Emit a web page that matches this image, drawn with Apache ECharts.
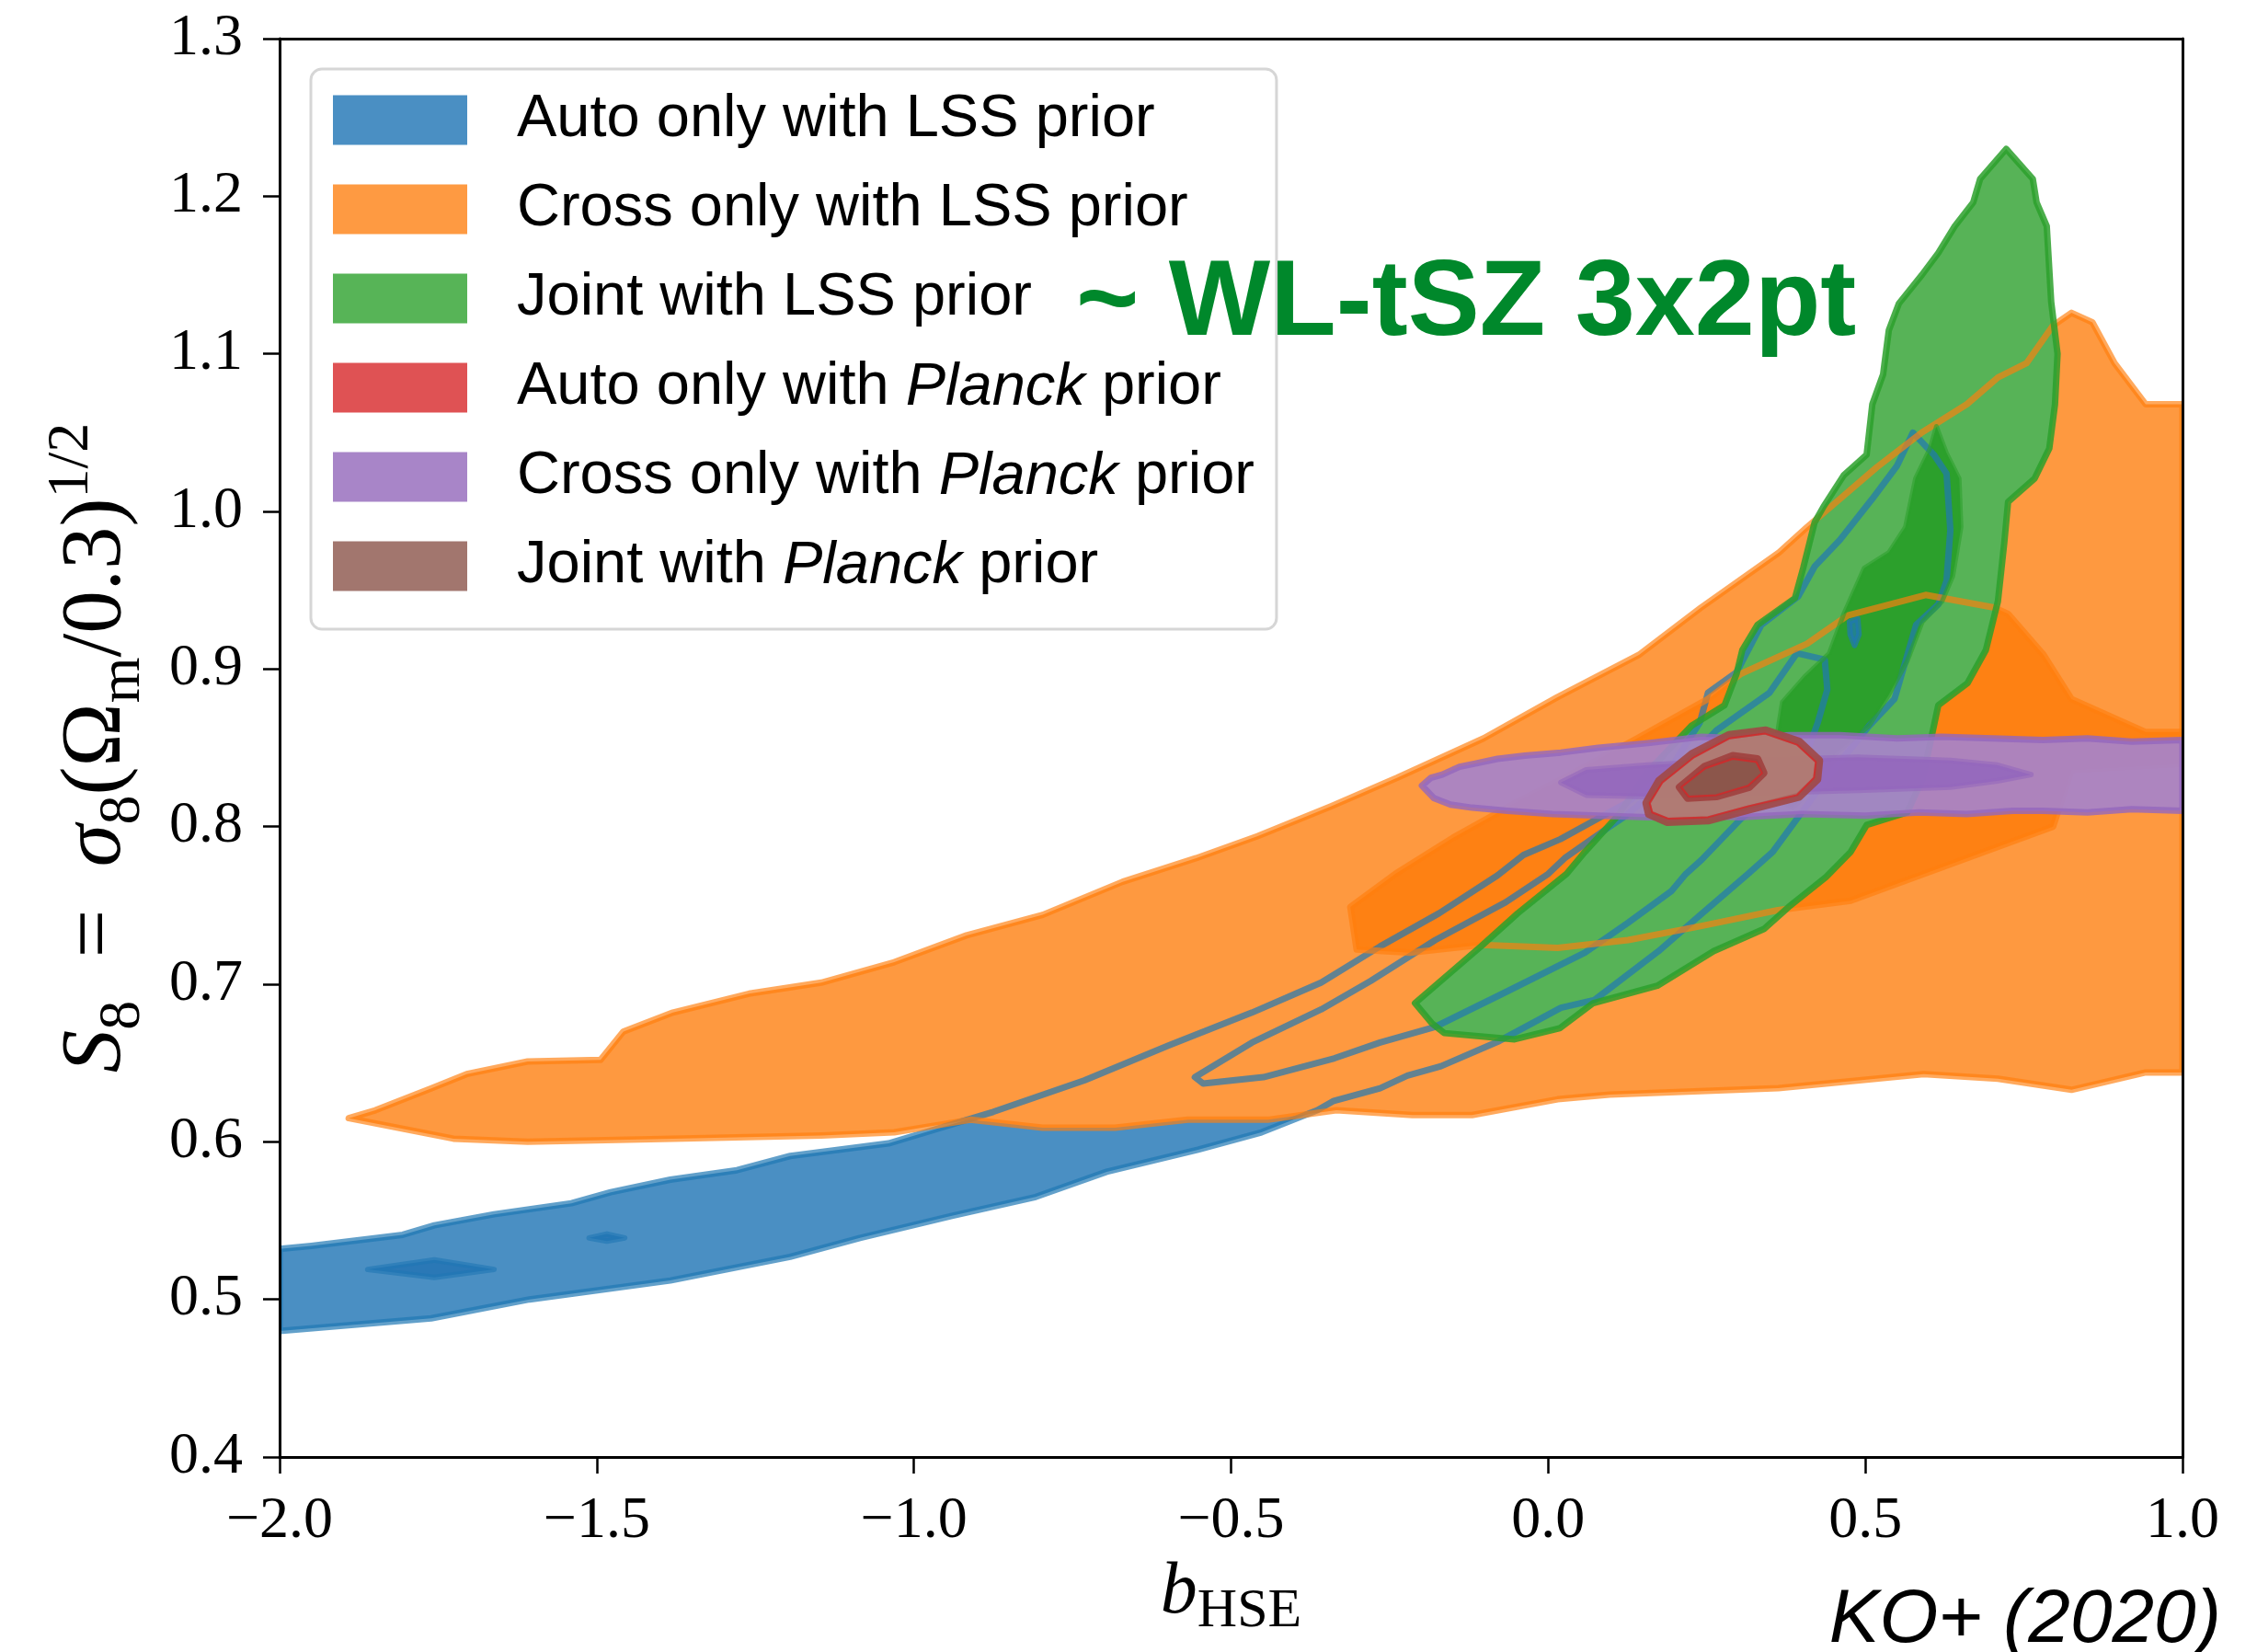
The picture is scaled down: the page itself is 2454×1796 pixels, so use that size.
<!DOCTYPE html>
<html>
<head>
<meta charset="utf-8">
<script src="https://cdn.jsdelivr.net/npm/echarts@6/dist/echarts.min.js"></script>
<style>
  html, body { margin: 0; padding: 0; background: #fff; }
  #chart { width: 2454px; height: 1796px; }
</style>
</head>
<body>
<div id="chart"></div>
<script>
// Axis ticks
const xTicks = [-2.0, -1.5, -1.0, -0.5, 0.0, 0.5, 1.0];
const yTicks = [0.4, 0.5, 0.6, 0.7, 0.8, 0.9, 1.0, 1.1, 1.2, 1.3];

// Legend entries
const legendNames = [
  'Auto only with LSS prior',
  'Cross only with LSS prior',
  'Joint with LSS prior',
  'Auto only with Planck prior',
  'Cross only with Planck prior',
  'Joint with Planck prior'
];

// Contours in (b_HSE, S8): outer = 95%, inner = 68%
const blueOuter = [
  [-2.0,0.532],[-1.95,0.534],[-1.806,0.541],[-1.756,0.547],[-1.662,0.554],[-1.54,0.561],
  [-1.478,0.568],[-1.384,0.576],[-1.279,0.582],[-1.195,0.591],[-1.04,0.599],[-0.875,0.619],
  [-0.731,0.639],[-0.599,0.661],[-0.467,0.682],[-0.358,0.701],[-0.265,0.724],[-0.172,0.745],
  [-0.08,0.769],[-0.039,0.782],[0.019,0.792],[0.123,0.815],[0.188,0.834],[0.239,0.866],
  [0.252,0.885],[0.297,0.898],[0.336,0.928],[0.394,0.946],[0.42,0.965],[0.46,0.982],
  [0.511,1.008],[0.55,1.029],[0.575,1.05],[0.608,1.036],[0.628,1.024],[0.634,0.988],
  [0.628,0.956],[0.615,0.941],[0.58,0.928],[0.546,0.881],[0.506,0.864],[0.438,0.83],
  [0.354,0.784],[0.315,0.77],[0.237,0.743],[0.174,0.721],[0.073,0.69],[0.02,0.685],
  [-0.077,0.664],[-0.169,0.648],[-0.222,0.642],[-0.265,0.634],[-0.338,0.626],[-0.364,0.62],
  [-0.452,0.606],[-0.552,0.595],[-0.696,0.581],[-0.808,0.565],[-0.94,0.553],[-1.085,0.539],
  [-1.195,0.527],[-1.384,0.512],[-1.606,0.5],[-1.761,0.488],[-2.0,0.48]
];
const blueInnerLoop = [
  [-0.557,0.641],[-0.467,0.663],[-0.358,0.684],[-0.28,0.702],[-0.178,0.728],[-0.067,0.752],
  [0.0,0.77],[0.026,0.78],[0.097,0.8],[0.123,0.807],[0.175,0.825],[0.22,0.842],[0.265,0.861],
  [0.349,0.885],[0.392,0.91],[0.436,0.906],[0.44,0.887],[0.425,0.866],[0.406,0.845],
  [0.37,0.826],[0.304,0.805],[0.242,0.779],[0.217,0.77],[0.194,0.759],[0.126,0.739],
  [0.058,0.72],[-0.077,0.693],[-0.178,0.673],[-0.265,0.663],[-0.337,0.653],[-0.449,0.641],
  [-0.544,0.637]
];
const blueIslandA = [[-1.861,0.519],[-1.756,0.525],[-1.662,0.519],[-1.756,0.514]];
const blueIslandB = [[-1.512,0.539],[-1.484,0.5415],[-1.456,0.539],[-1.484,0.537]];
const blueIslandC = [[0.475,0.93],[0.488,0.932],[0.49,0.922],[0.483,0.915],[0.476,0.922]];

const orangeOuter = [
  [-1.891,0.615],[-1.849,0.62],[-1.76,0.634],[-1.705,0.643],[-1.609,0.651],[-1.494,0.652],
  [-1.458,0.67],[-1.38,0.682],[-1.26,0.694],[-1.146,0.701],[-1.031,0.714],[-0.917,0.731],
  [-0.797,0.744],[-0.671,0.765],[-0.555,0.78],[-0.458,0.794],[-0.342,0.813],[-0.238,0.831],
  [-0.102,0.856],[0.014,0.882],[0.143,0.909],[0.241,0.939],[0.364,0.974],[0.408,0.99],
  [0.46,1.008],[0.518,1.028],[0.589,1.05],[0.66,1.068],[0.709,1.085],[0.754,1.094],
  [0.796,1.118],[0.825,1.126],[0.858,1.12],[0.893,1.094],[0.942,1.068],[1.0,1.068],
  [1.0,0.644],[0.942,0.644],[0.825,0.633],[0.709,0.64],[0.592,0.643],[0.363,0.634],
  [0.097,0.63],[0.015,0.627],[-0.12,0.617],[-0.214,0.617],[-0.334,0.62],[-0.442,0.614],
  [-0.568,0.614],[-0.683,0.609],[-0.797,0.609],[-0.911,0.614],[-1.031,0.606],[-1.146,0.604],
  [-1.38,0.602],[-1.609,0.6],[-1.726,0.602]
];
const orangeInner = [
  [-0.312,0.749],[-0.241,0.77],[-0.15,0.793],[-0.052,0.815],[0.026,0.831],[0.14,0.856],
  [0.252,0.881],[0.304,0.897],[0.408,0.916],[0.472,0.934],[0.595,0.947],[0.703,0.939],
  [0.725,0.935],[0.781,0.909],[0.825,0.881],[0.942,0.86],[1.0,0.86],[1.0,0.84],
  [0.825,0.836],[0.796,0.8],[0.477,0.753],[0.362,0.747],[0.242,0.737],[0.126,0.728],
  [0.015,0.723],[-0.106,0.725],[-0.218,0.72],[-0.302,0.722]
];

const greenOuter = [
  [-0.21,0.688],[-0.106,0.724],[-0.048,0.745],[0.029,0.77],[0.058,0.784],[0.11,0.807],
  [0.155,0.834],[0.226,0.864],[0.278,0.877],[0.297,0.897],[0.306,0.912],[0.33,0.928],
  [0.389,0.945],[0.402,0.964],[0.42,0.993],[0.434,1.003],[0.466,1.023],[0.502,1.036],
  [0.511,1.068],[0.528,1.087],[0.537,1.115],[0.553,1.132],[0.589,1.15],[0.615,1.164],
  [0.641,1.181],[0.67,1.196],[0.681,1.211],[0.722,1.23],[0.764,1.211],[0.77,1.196],
  [0.786,1.181],[0.793,1.133],[0.803,1.1],[0.799,1.068],[0.79,1.04],[0.767,1.021],
  [0.725,1.006],[0.719,0.98],[0.709,0.943],[0.69,0.912],[0.661,0.891],[0.615,0.877],
  [0.59,0.83],[0.566,0.809],[0.502,0.801],[0.477,0.784],[0.438,0.768],[0.379,0.749],
  [0.34,0.735],[0.261,0.721],[0.172,0.699],[0.071,0.688],[0.018,0.672],[-0.053,0.665],
  [-0.164,0.669],[-0.183,0.675]
];
const greenInner = [
  [0.612,1.054],[0.628,1.037],[0.648,1.021],[0.651,0.99],[0.638,0.959],[0.621,0.943],
  [0.59,0.93],[0.566,0.905],[0.536,0.883],[0.506,0.864],[0.452,0.846],[0.428,0.834],
  [0.399,0.817],[0.385,0.812],[0.366,0.816],[0.346,0.828],[0.347,0.839],[0.36,0.856],
  [0.369,0.879],[0.404,0.895],[0.443,0.91],[0.467,0.936],[0.498,0.964],[0.537,0.974],
  [0.563,0.99],[0.579,1.021],[0.602,1.04]
];

const purpleOuter = [
  [-0.199,0.826],[-0.185,0.831],[-0.167,0.833],[-0.14,0.838],[-0.115,0.84],[-0.08,0.843],
  [-0.037,0.845],[0.02,0.847],[0.079,0.85],[0.157,0.853],[0.242,0.857],[0.3,0.856],
  [0.38,0.858],[0.46,0.858],[0.55,0.856],[0.62,0.857],[0.7,0.856],[0.78,0.855],
  [0.85,0.856],[0.92,0.854],[1.0,0.855],[1.0,0.81],[0.92,0.811],[0.85,0.809],
  [0.78,0.81],[0.732,0.81],[0.66,0.808],[0.585,0.809],[0.5,0.807],[0.4,0.808],
  [0.3,0.806],[0.242,0.807],[0.157,0.806],[0.08,0.807],[0.007,0.808],[-0.064,0.81],
  [-0.12,0.812],[-0.154,0.814],[-0.18,0.818]
];
const purpleInner = [
  [0.02,0.828],[0.06,0.836],[0.157,0.839],[0.3,0.842],[0.488,0.844],[0.634,0.842],
  [0.708,0.839],[0.761,0.833],[0.708,0.829],[0.634,0.825],[0.488,0.823],[0.3,0.821],
  [0.157,0.819],[0.06,0.82]
];

const redOuter = [
  [0.155,0.815],[0.175,0.829],[0.227,0.846],[0.285,0.858],[0.343,0.861],[0.395,0.854],
  [0.427,0.842],[0.424,0.83],[0.395,0.819],[0.317,0.811],[0.252,0.804],[0.188,0.803],
  [0.159,0.808]
];
const redInner = [
  [0.207,0.825],[0.246,0.838],[0.291,0.845],[0.33,0.843],[0.34,0.834],[0.317,0.825],
  [0.265,0.819],[0.22,0.818]
];
const brownOuter = [
  [0.16,0.815],[0.18,0.828],[0.23,0.844],[0.286,0.856],[0.342,0.859],[0.392,0.852],
  [0.422,0.841],[0.419,0.831],[0.392,0.82],[0.316,0.813],[0.252,0.806],[0.19,0.805],
  [0.164,0.809]
];
const brownInner = [
  [0.21,0.825],[0.248,0.837],[0.291,0.843],[0.328,0.841],[0.337,0.834],[0.315,0.826],
  [0.265,0.82],[0.222,0.819]
];

const SERIF = '"Liberation Serif", "DejaVu Serif", serif';
const SANS = '"Liberation Sans", Arial, sans-serif';

// One custom series per filled or stroked contour polygon
function contour(name, pts, style) {
  return {
    type: 'custom',
    name: name,
    coordinateSystem: 'cartesian2d',
    data: pts,
    encode: { x: 0, y: 1 },
    clip: true,
    silent: true,
    z: 2,
    renderItem: function (params, api) {
      if (params.dataIndex !== 0) return null;
      return {
        type: 'polygon',
        shape: { points: pts.map(function (p) { return api.coord(p); }) },
        style: Object.assign({ lineJoin: 'round' }, style)
      };
    }
  };
}

const L = legendNames;
const series = [
  // fills
  contour(L[0], blueOuter, { fill: '#4a8fc3', stroke: null }),
  contour(L[0], blueInnerLoop, { fill: '#2a78b6', stroke: null }),
  contour(L[0], blueIslandA, { fill: '#2a78b6', stroke: null }),
  contour(L[0], blueIslandB, { fill: '#2a78b6', stroke: null }),
  contour(L[1], orangeOuter, { fill: '#fe9940', stroke: null }),
  contour(L[1], orangeInner, { fill: '#fe8113', stroke: null }),
  contour(L[2], greenOuter, { fill: '#57b357', stroke: null }),
  contour(L[2], greenInner, { fill: '#2ca02c', stroke: null }),
  // contour lines drawn over the fills
  contour(L[0], blueOuter, { fill: null, stroke: 'rgba(31,119,180,0.7)', lineWidth: 7 }),
  contour(L[0], blueInnerLoop, { fill: null, stroke: 'rgba(31,119,180,0.7)', lineWidth: 7 }),
  contour(L[0], blueIslandA, { fill: null, stroke: 'rgba(31,119,180,0.6)', lineWidth: 6 }),
  contour(L[0], blueIslandB, { fill: null, stroke: 'rgba(31,119,180,0.6)', lineWidth: 6 }),
  contour(L[0], blueIslandC, { fill: 'rgba(31,119,180,0.7)', stroke: 'rgba(31,119,180,0.7)', lineWidth: 6 }),
  contour(L[1], orangeOuter, { fill: null, stroke: 'rgba(255,127,14,0.67)', lineWidth: 7 }),
  contour(L[1], orangeInner, { fill: null, stroke: 'rgba(255,127,14,0.67)', lineWidth: 7 }),
  contour(L[2], greenOuter, { fill: null, stroke: 'rgba(44,160,44,0.85)', lineWidth: 7 }),
  contour(L[2], greenInner, { fill: null, stroke: 'rgba(44,160,44,0.6)', lineWidth: 5 }),
  // Planck-prior contours
  contour(L[4], purpleOuter, { fill: 'rgba(167,131,201,0.93)', stroke: 'rgba(148,103,189,0.8)', lineWidth: 7 }),
  contour(L[4], purpleInner, { fill: 'rgba(148,103,189,0.9)', stroke: 'rgba(148,103,189,0.6)', lineWidth: 6 }),
  contour(L[3], redOuter, { fill: 'rgba(176,122,112,0.9)', stroke: 'rgba(160,72,70,0.9)', lineWidth: 9 }),
  contour(L[5], brownOuter, { fill: 'rgba(176,124,114,0.6)', stroke: 'rgba(214,39,40,0.8)', lineWidth: 2 }),
  contour(L[3], redInner, { fill: 'rgba(138,86,75,0.95)', stroke: 'rgba(160,64,62,0.9)', lineWidth: 8 }),
  contour(L[5], brownInner, { fill: 'rgba(140,86,75,0.9)', stroke: 'rgba(214,39,40,0.8)', lineWidth: 2 })
];

const legendColors = ['#4a8fc3', '#fe9a42', '#57b457', '#df5254', '#a885c8', '#a2766e'];

const xStep = Math.round((xTicks[1] - xTicks[0]) * 1000) / 1000;
const yStep = Math.round((yTicks[1] - yTicks[0]) * 1000) / 1000;

function fmt(v) {
  const s = Math.abs(v).toFixed(1);
  return (v < -1e-9 ? '\u2212' : '') + s;
}

const axisLine = { show: true, onZero: false, lineStyle: { color: '#000', width: 3 } };

const option = {
  backgroundColor: '#fff',
  animation: false,
  grid: { left: 304, right: 81, top: 42, bottom: 212, containLabel: false },
  xAxis: [{
    type: 'value', position: 'bottom', z: 5,
    min: xTicks[0], max: xTicks[xTicks.length - 1], interval: xStep,
    axisLine: axisLine,
    axisTick: { show: true, inside: false, length: 18, lineStyle: { color: '#000', width: 2.5 } },
    splitLine: { show: false },
    axisLabel: { formatter: fmt, color: '#000', fontFamily: SERIF, fontSize: 64, margin: 38 },
    name: '{it|b}{sub|HSE}',
    nameLocation: 'middle', nameGap: 98,
    nameTextStyle: {
      color: '#000',
      rich: {
        it: { fontFamily: SERIF, fontStyle: 'italic', fontSize: 80, lineHeight: 100, color: '#000' },
        sub: { fontFamily: SERIF, fontSize: 60, lineHeight: 60, verticalAlign: 'bottom', color: '#000' }
      }
    }
  }, {
    type: 'value', position: 'top', z: 5,
    min: xTicks[0], max: xTicks[xTicks.length - 1], interval: xStep,
    axisLine: axisLine, axisTick: { show: false }, axisLabel: { show: false }, splitLine: { show: false }
  }],
  yAxis: [{
    type: 'value', position: 'left', z: 5,
    min: yTicks[0], max: yTicks[yTicks.length - 1], interval: yStep,
    axisLine: axisLine,
    axisTick: { show: true, inside: false, length: 18, lineStyle: { color: '#000', width: 2.5 } },
    splitLine: { show: false },
    axisLabel: { formatter: fmt, color: '#000', fontFamily: SERIF, fontSize: 64, margin: 40 },
    name: '{it|S}{sub|8}{rm|\u2002=\u2002}{it|\u03c3}{sub|8}{rm|(\u03a9}{sub|m}{rm|/0.3)}{sup|1/2}',
    nameLocation: 'middle', nameRotate: 90, nameGap: 138,
    nameTextStyle: {
      color: '#000',
      rich: {
        it: { fontFamily: SERIF, fontStyle: 'italic', fontSize: 93, lineHeight: 120, color: '#000' },
        rm: { fontFamily: SERIF, fontSize: 93, lineHeight: 120, color: '#000' },
        sub: { fontFamily: SERIF, fontSize: 64, lineHeight: 64, verticalAlign: 'bottom', color: '#000' },
        sup: { fontFamily: SERIF, fontSize: 64, lineHeight: 64, verticalAlign: 'top', color: '#000' }
      }
    }
  }, {
    type: 'value', position: 'right', z: 5,
    min: yTicks[0], max: yTicks[yTicks.length - 1], interval: yStep,
    axisLine: axisLine, axisTick: { show: false }, axisLabel: { show: false }, splitLine: { show: false }
  }],
  legend: {
    show: true,
    orient: 'vertical',
    left: 338, top: 75,
    z: 6,
    selectedMode: false,
    icon: 'rect',
    itemWidth: 146, itemHeight: 54, itemGap: 32,
    padding: [23, 24, 36, 24],
    backgroundColor: '#fff',
    borderColor: '#d6d6d6', borderWidth: 3, borderRadius: 12,
    data: legendNames.map(function (n, i) {
      return { name: n, itemStyle: { color: legendColors[i] } };
    }),
    formatter: function (n) { return n.replace('Planck', '{i|Planck}'); },
    textStyle: {
      color: '#000', fontFamily: SANS, fontSize: 65, lineHeight: 54,
      padding: [0, 0, 0, 49],
      rich: { i: { fontFamily: SANS, fontStyle: 'italic', fontSize: 65, lineHeight: 54, color: '#000' } }
    }
  },
  graphic: [{
    type: 'text', z: 7,
    style: {
      x: 1170, y: 332, text: '~ WL-tSZ 3x2pt',
      fontFamily: SANS, fontWeight: 'bold', fontSize: 117,
      fill: '#00882b', verticalAlign: 'middle', align: 'left'
    }
  }, {
    type: 'text', z: 7,
    style: {
      x: 2415, y: 1762, text: 'KO+ (2020)',
      fontFamily: SANS, fontStyle: 'italic', fontSize: 82,
      fill: '#000', verticalAlign: 'middle', align: 'right'
    }
  }],
  series: series
};

const chart = echarts.init(document.getElementById('chart'), null, { renderer: 'canvas' });
chart.setOption(option);
</script>
</body>
</html>
